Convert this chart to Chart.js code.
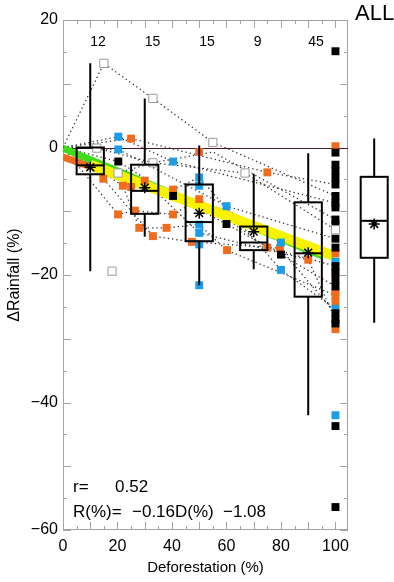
<!DOCTYPE html>
<html>
<head>
<meta charset="utf-8">
<script src="https://cdn.jsdelivr.net/npm/chart.js@4.4.0/dist/chart.umd.min.js"></script>
<style>
html, body { margin: 0; padding: 0; background: #fff; overflow: hidden; }
#wrap { position: relative; width: 394px; height: 582px; }
#main { position: absolute; left: 0; top: 0; }
#all { position: absolute; left: 348px; top: 0; }
</style>
</head>
<body>
<div id="wrap">
  <canvas id="main" width="394" height="582"></canvas>
  <canvas id="all" width="46" height="582"></canvas>
</div>
<script>
// bins (deforestation classes) and their box statistics
const binX = [10, 30, 50, 70, 90];
const binCount = ['12', '15', '15', '9', '45'];
const boxHigh = [13.2, 7.7, 0.3, -4.1, -0.9];
const boxQ3 = [0, -2.7, -5.8, -12.4, -8.6];
const boxMedian = [-2.8, -6.8, -11.7, -14.9, -16.6];
const boxQ1 = [-4.2, -10.4, -14.7, -16.1, -23.4];
const boxLow = [-19.4, -14.0, -21.6, -19.1, -42.0];
const boxMean = [-3.1, -6.3, -10.3, -13.2, -16.5];

// all studies together
const allX = [0.6];
const allHigh = [1.4];
const allQ3 = [-4.6];
const allMedian = [-11.5];
const allQ1 = [-17.3];
const allLow = [-27.5];
const allMean = [-12.0];

// individual results
const orangeX = [25, 14.8, 22, 25, 30, 20.2, 26.4, 28, 33, 38, 40.4, 40.4, 50, 50, 47.3, 60.2, 75, 75, 79.6, 90,
  100, 100, 100, 100, 100, 100, 100];
const orangeY = [1.4, -4.9, -6.0, -6.2, -5.2, -10.5, -9.9, -12.6, -13.9, -12.6, -10.5, -6.6, -0.7, -8.1, -14.8, -16.1, -3.9, -15.7, -15.8, -17.6,
  0.2, -16.6, -19.7, -23.2, -24.2, -28.5, -22.6];
const blueX = [20.3, 20.3, 40.4, 50, 50, 50, 50, 50, 50, 60, 80, 80, 100, 100, 100];
const blueY = [1.7, -0.3, -2.2, -4.7, -6.0, -12.1, -13.4, -15.2, -21.6, -9.2, -14.9, -19.2, -17.9, -25.3, -42.0];
const blackX = [20.3, 40.4, 60, 80,
  100, 100, 100, 100, 100, 100, 100, 100, 100, 100, 100, 100, 100, 100, 100, 100, 100, 100, 100, 100, 100, 100];
const blackY = [-2.2, -7.6, -12.0, -16.8,
  15.1, -0.8, -2.7, -3.7, -4.8, -5.8, -7.6, -8.7, -11.3, -12.0, -14.3, -15.7, -18.6, -19.6, -20.8, -21.8, -26.0, -27.0, -27.6, -43.7, -56.4, -9.4];
const openX = [15, 33, 12.4, 20.2, 33, 55, 66.8, 18, 100];
const openY = [13.2, 7.7, -0.1, -4.0, -2.4, 0.8, -4.0, -19.4, -12.9];

// dotted lines joining results of the same study
const studyLinesX = [
  [0, 15, 33, 55, 100],
  [0, 12.4, 33, 66.8, 100],
  [0, 25, 75, 100],
  [0, 20.3, 40.4, 100],
  [0, 20.3, 60, 100],
  [0, 20.3, 40.4, 60, 80, 100],
  [0, 20.2, 26.4, 40.4, 50, 75, 100],
  [0, 22, 28, 38, 50, 60, 100],
  [0, 14.8, 33, 47.3, 79.6, 100],
  [0, 25, 40.4, 50, 80, 100],
  [0, 30, 50, 90, 100],
  [0, 20.2, 33, 55, 100]
];
const studyLinesY = [
  [0, 13.2, 7.7, 0.8, -7.6],
  [0, -0.1, -2.4, -4.0, -12.9],
  [0, 1.4, -3.9, -5.8],
  [0, 1.7, -2.2, -8.7],
  [0, -0.3, -9.2, -14.3],
  [0, -2.2, -7.6, -12.0, -16.8, -21.8],
  [0, -10.5, -9.9, -10.5, -8.1, -15.7, -18.6],
  [0, -6.0, -12.6, -12.6, -12.1, -16.1, -23.2],
  [0, -4.9, -13.9, -14.8, -15.8, -26.0],
  [0, -6.2, -6.6, -4.7, -19.2, -25.3],
  [0, -5.2, -13.4, -17.6, -27.0],
  [0, -4.0, -2.4, -0.7, -11.3]
];

// fitted lines
const orangeFitX = [0, 62];
const orangeFitY = [-1.5, -10.7];
const greenFitX = [0, 95];
const greenFitY = [-0.1, -17.0];
const fitX = [10, 100];
const fitY = [-2.7, -17.1];

const xTicks = [0, 20, 40, 60, 80, 100];
const yTicks = [20, 0, -20, -40, -60];

const FONT = "'Liberation Sans', Arial, sans-serif";
Chart.defaults.font.family = FONT;
Chart.defaults.color = '#000';

const ORANGE = '#f26a1c';
const BLUE = '#1c9de8';

function pts(xs, ys) {
    return xs.map((x, i) => ({ x: x, y: ys[i] }));
}

function minus(v) {
    return v < 0 ? '\u2212' + Math.abs(v) : String(v);
}

function drawBoxes(chart, xs, hi, q3, med, q1, lo, half) {
    const { ctx, scales: { x, y } } = chart;
    ctx.save();
    ctx.strokeStyle = '#000';
    ctx.lineWidth = 2;
    xs.forEach((v, i) => {
        const cx = x.getPixelForValue(v);
        const w = half(x, v);
        const top = y.getPixelForValue(q3[i]);
        const bot = y.getPixelForValue(q1[i]);
        ctx.beginPath();
        ctx.moveTo(cx, y.getPixelForValue(hi[i]));
        ctx.lineTo(cx, top);
        ctx.moveTo(cx, bot);
        ctx.lineTo(cx, y.getPixelForValue(lo[i]));
        ctx.stroke();
        ctx.strokeRect(cx - w, top, 2 * w, bot - top);
        const m = y.getPixelForValue(med[i]);
        ctx.beginPath();
        ctx.moveTo(cx - w, m);
        ctx.lineTo(cx + w, m);
        ctx.stroke();
    });
    ctx.restore();
}

const mainDecor = {
    id: 'mainDecor',
    beforeDatasetsDraw(chart) {
        const { ctx, chartArea: a, scales: { x, y } } = chart;
        ctx.save();
        // frame
        ctx.strokeStyle = '#a3a3a3';
        ctx.lineWidth = 1;
        ctx.strokeRect(a.left + 0.5, a.top + 0.5, a.right - a.left - 1, a.bottom - a.top - 1);
        // inward ticks on all four sides
        ctx.beginPath();
        x.ticks.forEach(t => {
            const px = Math.round(x.getPixelForValue(t.value)) + 0.5;
            const len = t.value % 10 === 0 ? 8 : 4;
            ctx.moveTo(px, a.bottom);
            ctx.lineTo(px, a.bottom - len);
            ctx.moveTo(px, a.top);
            ctx.lineTo(px, a.top + len);
        });
        y.ticks.forEach(t => {
            const py = Math.round(y.getPixelForValue(t.value)) + 0.5;
            const len = t.value % 10 === 0 ? 8 : 4;
            ctx.moveTo(a.left, py);
            ctx.lineTo(a.left + len, py);
            ctx.moveTo(a.right, py);
            ctx.lineTo(a.right - len, py);
        });
        ctx.stroke();
        // zero line
        const y0 = Math.round(y.getPixelForValue(0)) + 0.5;
        ctx.strokeStyle = '#4a1634';
        ctx.beginPath();
        ctx.moveTo(a.left, y0);
        ctx.lineTo(a.right, y0);
        ctx.stroke();
        ctx.restore();
    },
    beforeDatasetDraw(chart, args) {
        // boxes go right under the mean stars (dataset 0)
        if (args.index !== 0) return;
        drawBoxes(chart, binX, boxHigh, boxQ3, boxMedian, boxQ1, boxLow,
            (sx, v) => sx.getPixelForValue(v + 5) - sx.getPixelForValue(v));
    },
    afterDraw(chart) {
        const { ctx, chartArea: a, scales: { x } } = chart;
        ctx.save();
        ctx.fillStyle = '#000';
        ctx.textBaseline = 'alphabetic';
        ctx.textAlign = 'left';
        ctx.font = '14px ' + FONT;
        binX.forEach((v, i) => {
            ctx.fillText(binCount[i], x.getPixelForValue(v), a.top + 26);
        });
        ctx.font = '17px ' + FONT;
        const tx = a.left + 10;
        ctx.fillText('r=', tx, a.bottom - 38);
        ctx.fillText('0.52', tx + 42, a.bottom - 38);
        ctx.fillText('R(%)=', tx, a.bottom - 13);
        ctx.fillText('\u22120.16', tx + 59, a.bottom - 13);
        ctx.fillText('D(%)', tx + 102, a.bottom - 13);
        ctx.fillText('\u22121.08', tx + 150, a.bottom - 13);
        ctx.restore();
    }
};

const datasets = [
    {
        label: 'mean', data: pts(binX, boxMean),
        pointStyle: 'star', pointRadius: 5.5, borderColor: '#000', borderWidth: 1.5, backgroundColor: '#000'
    },
    {
        label: 'open', data: pts(openX, openY),
        pointStyle: 'rect', pointRadius: 5.8, borderColor: '#9a9a9a', borderWidth: 1, backgroundColor: '#fff'
    },
    {
        label: 'black', data: pts(blackX, blackY),
        pointStyle: 'rect', pointRadius: 5.6, borderWidth: 0, backgroundColor: '#000'
    },
    {
        label: 'blue', data: pts(blueX, blueY),
        pointStyle: 'rect', pointRadius: 5.6, borderWidth: 0, backgroundColor: BLUE
    },
    {
        label: 'orange', data: pts(orangeX, orangeY),
        pointStyle: 'rect', pointRadius: 5.6, borderWidth: 0, backgroundColor: ORANGE
    },
    {
        label: 'fit', data: pts(fitX, fitY), showLine: true,
        borderColor: '#f7f200', borderWidth: 10, pointRadius: 0
    },
    {
        label: 'green fit', data: pts(greenFitX, greenFitY), showLine: true,
        borderColor: '#3fdc1c', borderWidth: 7, pointRadius: 0
    },
    {
        label: 'orange fit', data: pts(orangeFitX, orangeFitY), showLine: true,
        borderColor: ORANGE, borderWidth: 7, pointRadius: 0
    }
];
studyLinesX.forEach((xs, i) => {
    datasets.push({
        label: 'study ' + (i + 1), data: pts(xs, studyLinesY[i]), showLine: true,
        borderColor: '#333', borderWidth: 1.3, borderDash: [1.3, 3], pointRadius: 0
    });
});

new Chart(document.getElementById('main'), {
    type: 'scatter',
    data: { datasets: datasets },
    options: {
        responsive: false,
        animation: false,
        layout: { padding: { left: 0, top: 20, right: 46, bottom: 0 } },
        plugins: { legend: { display: false }, tooltip: { enabled: false } },
        scales: {
            x: {
                type: 'linear', min: 0, max: 104.6,
                grid: { display: false, drawTicks: false },
                border: { display: false },
                ticks: {
                    stepSize: 5, includeBounds: false, autoSkip: false, maxRotation: 0, padding: 7,
                    font: { size: 16 },
                    callback: v => xTicks.includes(v) ? String(v) : ''
                },
                title: { display: true, text: 'Deforestation (%)', font: { size: 15 }, padding: { top: 0, bottom: 5 } },
                afterFit: s => { s.height = 52; }
            },
            y: {
                type: 'linear', min: -60, max: 20,
                grid: { display: false, drawTicks: false },
                border: { display: false },
                ticks: {
                    stepSize: 5, autoSkip: false, padding: 5,
                    font: { size: 16 },
                    callback: v => yTicks.includes(v) ? minus(v) : ''
                },
                title: { display: true, text: '\u0394Rainfall (%)', font: { size: 16 }, padding: { top: 5, bottom: 0 } },
                afterFit: s => { s.width = 63; }
            }
        }
    },
    plugins: [mainDecor]
});

// the "ALL" box at the right, same vertical scale
const allDecor = {
    id: 'allDecor',
    beforeDatasetDraw(chart, args) {
        if (args.index !== 0) return;
        drawBoxes(chart, allX, allHigh, allQ3, allMedian, allQ1, allLow, () => 13.5);
    },
    afterDraw(chart) {
        const ctx = chart.ctx;
        ctx.save();
        ctx.fillStyle = '#000';
        ctx.font = '22px ' + FONT;
        ctx.textAlign = 'left';
        ctx.textBaseline = 'alphabetic';
        ctx.fillText('ALL', 7, 20);
        ctx.restore();
    }
};

new Chart(document.getElementById('all'), {
    type: 'scatter',
    data: {
        datasets: [{
            label: 'ALL mean', data: pts(allX, allMean),
            pointStyle: 'star', pointRadius: 5.5, borderColor: '#000', borderWidth: 1.5
        }]
    },
    options: {
        responsive: false,
        animation: false,
        layout: { padding: { left: 0, top: 20, right: 0, bottom: 52 } },
        plugins: { legend: { display: false }, tooltip: { enabled: false } },
        scales: {
            x: { type: 'linear', min: 0, max: 1, display: false },
            y: { type: 'linear', min: -60, max: 20, display: false }
        }
    },
    plugins: [allDecor]
});
</script>
</body>
</html>
